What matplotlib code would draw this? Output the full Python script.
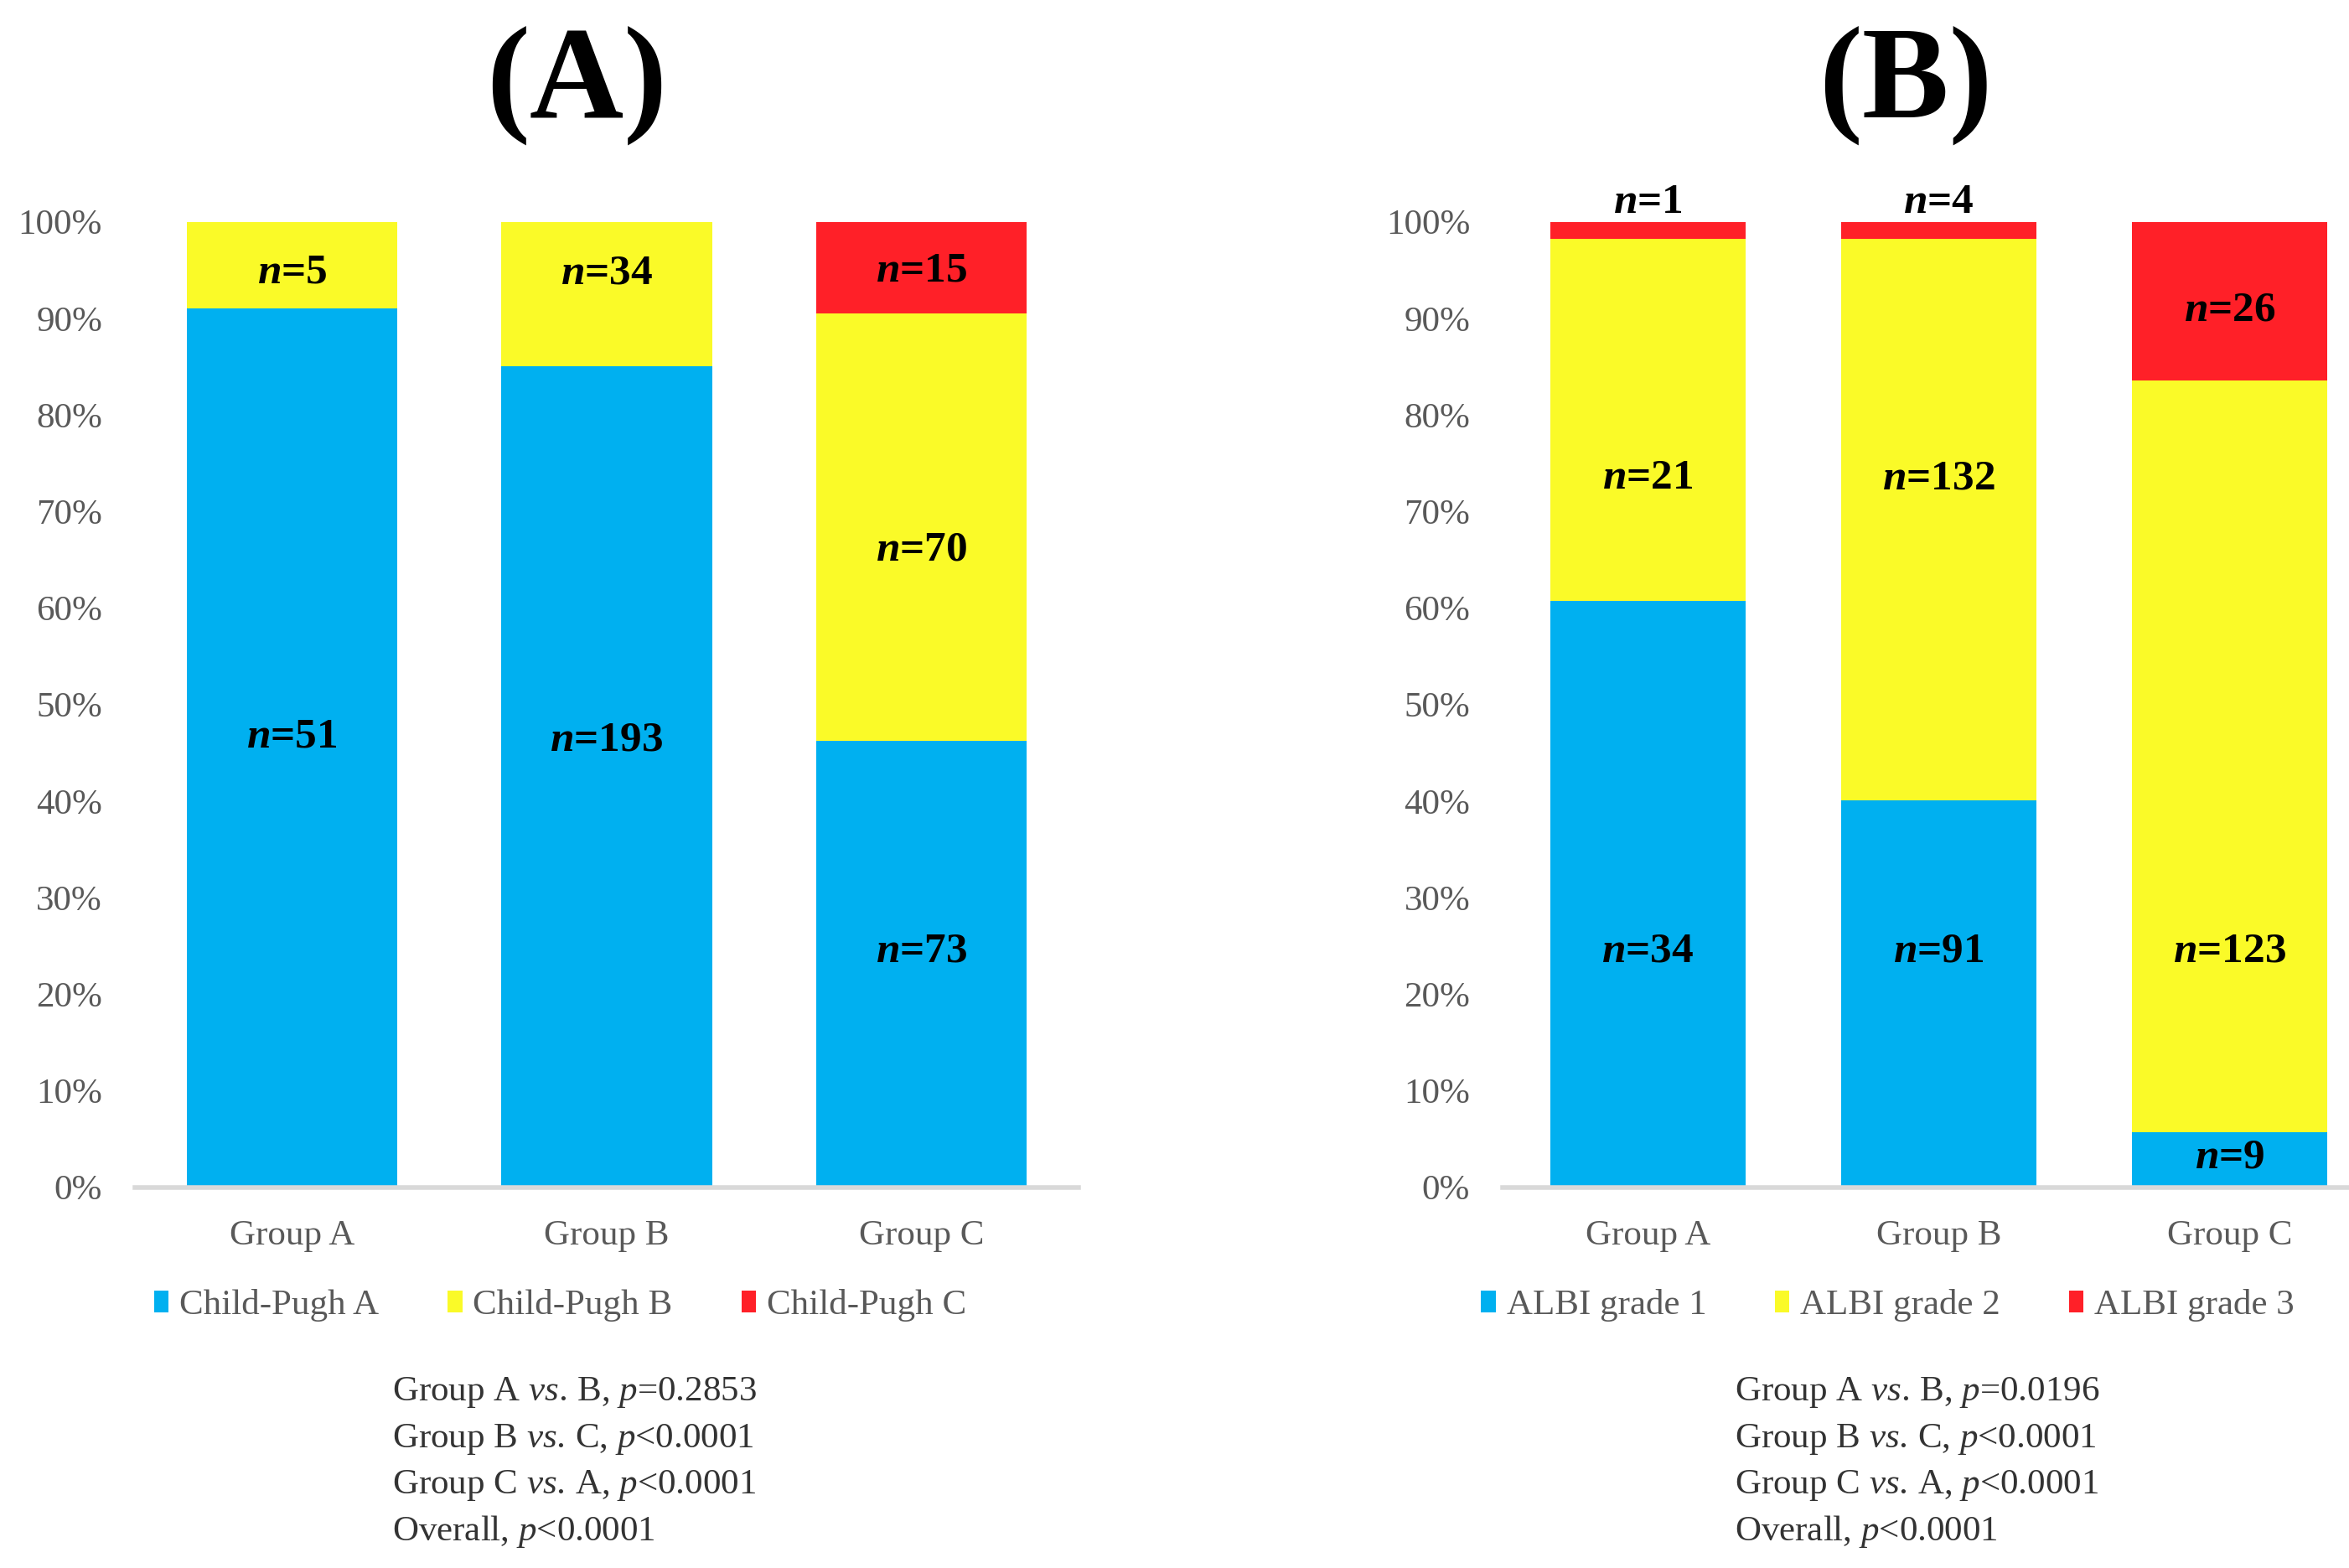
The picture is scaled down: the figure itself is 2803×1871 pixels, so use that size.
import matplotlib
matplotlib.use("Agg")
import matplotlib.pyplot as plt
import numpy as np
from matplotlib.patches import Patch

plt.rcParams["font.family"] = ["Liberation Serif", "DejaVu Serif"]
plt.rcParams["mathtext.fontset"] = "custom"
plt.rcParams["mathtext.rm"] = "Liberation Serif"
plt.rcParams["mathtext.it"] = "Liberation Serif:italic"
plt.rcParams["mathtext.bf"] = "Liberation Serif:bold"
plt.rcParams["mathtext.bfit"] = "Liberation Serif:italic:bold"

groups = ["Group A", "Group B", "Group C"]

# (A) Child-Pugh class counts per group
cp_labels = ["Child-Pugh A", "Child-Pugh B", "Child-Pugh C"]
cp_a = [51, 193, 73]
cp_b = [5, 34, 70]
cp_c = [0, 0, 15]

# (B) ALBI grade counts per group
albi_labels = ["ALBI grade 1", "ALBI grade 2", "ALBI grade 3"]
albi_1 = [34, 91, 9]
albi_2 = [21, 132, 123]
albi_3 = [1, 4, 26]

p_text_a = [r"Group A $\mathit{vs.}\,$B, $\mathit{p}$=0.2853",
            r"Group B $\mathit{vs.}\,$C, $\mathit{p}$<0.0001",
            r"Group C $\mathit{vs.}\,$A, $\mathit{p}$<0.0001",
            r"Overall, $\mathit{p}$<0.0001"]
p_text_b = [r"Group A $\mathit{vs.}\,$B, $\mathit{p}$=0.0196",
            r"Group B $\mathit{vs.}\,$C, $\mathit{p}$<0.0001",
            r"Group C $\mathit{vs.}\,$A, $\mathit{p}$<0.0001",
            r"Overall, $\mathit{p}$<0.0001"]

# where the n= labels sit (axes fraction), placed by hand in the original
lab_pos_a = [[0.466, 0.463, 0.244], [0.947, 0.946, 0.660], [None, None, 0.949]]
lab_pos_b = [[0.244, 0.244, 0.031], [0.734, 0.734, 0.244], [1.02, 1.02, 0.908]]

colors = ["#00B0F0", "#FAFA28", "#FF2028"]
gray = "#595959"

fig = plt.figure(figsize=(28.03, 18.71), dpi=100)
ax_a = fig.add_axes([0.0574, 0.2428, 0.4018, 0.6157])
ax_b = fig.add_axes([0.6397, 0.2428, 0.3603, 0.6157])


def draw_panel(ax, series, labels, lab_pos, xmax):
    series = [np.array(s, dtype=float) for s in series]
    totals = sum(series)
    x = np.arange(len(groups))
    bottom = np.zeros(len(groups))
    for k, (s, col) in enumerate(zip(series, colors)):
        frac = s / totals
        ax.bar(x, frac, 0.67, bottom=bottom, color=col, label=labels[k], zorder=2)
        for i in range(len(groups)):
            if s[i] == 0:
                continue
            ax.text(x[i], lab_pos[k][i], r"$\mathbfit{n}$=%d" % s[i], ha="center",
                    va="center", fontsize=37, fontweight="bold", clip_on=False)
        bottom += frac
    ax.set_ylim(0, 1)
    ax.set_xlim(-0.5, xmax)
    ax.set_yticks(np.arange(0, 1.01, 0.1))
    ax.set_yticklabels([f"{int(round(v * 100))}%" for v in np.arange(0, 1.01, 0.1)])
    ax.set_xticks(x)
    ax.set_xticklabels(groups)
    ax.tick_params(axis="y", length=0, pad=28, labelsize=31, labelcolor=gray)
    ax.tick_params(axis="x", length=0, pad=28, labelsize=31, labelcolor=gray)
    for side in ["top", "right", "left"]:
        ax.spines[side].set_visible(False)
    ax.spines["bottom"].set_color("#D9D9D9")
    ax.spines["bottom"].set_linewidth(4)


draw_panel(ax_a, [cp_a, cp_b, cp_c], cp_labels, lab_pos_a, 2.5)
draw_panel(ax_b, [albi_1, albi_2, albi_3], albi_labels, lab_pos_b, 2.41)

fig.text(0.2455, 0.945, "(A)", ha="center", va="center", fontsize=112, fontweight="bold")
fig.text(0.8112, 0.945, "(B)", ha="center", va="center", fontsize=112, fontweight="bold")

for lab_list, cx in [(cp_labels, 0.2385), (albi_labels, 0.8036)]:
    handles = [Patch(facecolor=c, edgecolor="none", label=l) for c, l in zip(colors, lab_list)]
    fig.legend(handles=handles, loc="center", bbox_to_anchor=(cx, 0.1673), ncol=3,
               frameon=False, fontsize=31, labelcolor=gray, handlelength=0.4,
               handleheight=0.55, handletextpad=0.3, columnspacing=1.9)

for lines, lx in [(p_text_a, 0.1671), (p_text_b, 0.7385)]:
    for j, line in enumerate(lines):
        fig.text(lx, 0.1119 - j * 0.0296, line, ha="left", va="center",
                 fontsize=31, color="#333333")

fig.savefig("out.png", dpi=100)
